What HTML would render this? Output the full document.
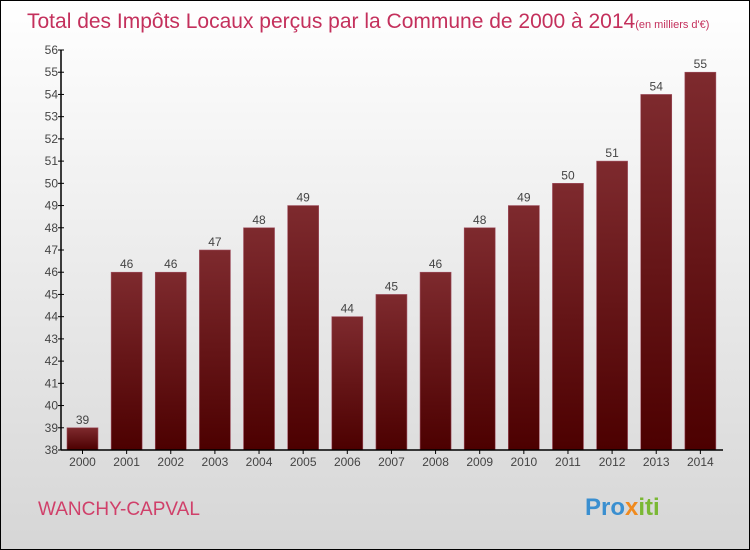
<!DOCTYPE html>
<html><head><meta charset="utf-8"><style>
body{margin:0}
#c{width:748px;height:548px;border:1px solid #000;position:relative;background:linear-gradient(#fff,#d6d6d6);font-family:"Liberation Sans",sans-serif;overflow:hidden}
</style></head><body>
<div id="c">
<svg width="748" height="548" id="s">
<defs><linearGradient id="g" x1="0" y1="0" x2="0" y2="1"><stop offset="0" stop-color="#7e2a2e"/><stop offset="1" stop-color="#4c0000"/></linearGradient></defs>
<text x="26" y="27" font-size="21" fill="#c4305c">Total des Impôts Locaux perçus par la Commune de 2000 à 2014<tspan font-size="11">(en milliers d'€)</tspan></text>
<text x="37" y="514" font-size="19" fill="#d0406a">WANCHY-CAPVAL</text>
<text x="584" y="514" font-size="24" font-weight="bold" fill="#3a8fd0">Pro<tspan fill="#f08a1e">x</tspan><tspan fill="#7ab834">iti</tspan></text>
<g id="bars"></g><g id="ax"></g>
</svg></div>
<script>
const years=["2000","2001","2002","2003","2004","2005","2006","2007","2008","2009","2010","2011","2012","2013","2014"];
const values=[39,46,46,47,48,49,44,45,46,48,49,50,51,54,55];
const yTicks=[38,39,40,41,42,43,44,45,46,47,48,49,50,51,52,53,54,55,56];
const ymin=38,ymax=56,plotTop=49,plotBot=449,plotLeft=60,plotRight=722;
const yS=v=>plotBot-(v-ymin)/(ymax-ymin)*(plotBot-plotTop);
const bw=(plotRight-plotLeft)/years.length;
const xS=i=>plotLeft+i*bw;
const NS="http://www.w3.org/2000/svg";
function mk(t,a,p,txt){const e=document.createElementNS(NS,t);for(const k in a)e.setAttribute(k,a[k]);if(txt!==undefined)e.textContent=txt;p.appendChild(e);return e;}
const B=document.getElementById('bars'),A=document.getElementById('ax');
values.forEach((v,i)=>{
 const r=mk('rect',{x:xS(i)+6,y:yS(v),width:31,height:plotBot-yS(v),fill:'url(#g)',stroke:'#a05060','stroke-width':0.6},B);
 
 
 const t=mk('text',{x:xS(i)+21.5,y:yS(v)-4,'font-size':12,'text-anchor':'middle',fill:'#444'},B,v);
 
 
 const xl=mk('text',{x:xS(i)+21.5,y:plotBot+16,'font-size':12,'text-anchor':'middle',fill:'#444'},A,years[i]);
 
 
 mk('line',{x1:xS(i)+21.5,x2:xS(i)+21.5,y1:plotBot,y2:plotBot+4,stroke:'#000'},A);
});
const ya=mk('line',{x1:plotLeft,x2:plotLeft,y1:plotTop,y2:plotBot,stroke:'#000','stroke-width':1.5},A);


const xa=mk('line',{x1:plotLeft,x2:plotRight,y1:plotBot,y2:plotBot,stroke:'#000','stroke-width':1.5},A);


yTicks.forEach(v=>{
 mk('line',{x1:plotLeft-3,x2:plotLeft+3,y1:yS(v),y2:yS(v),stroke:'#000'},A);
 const t=mk('text',{x:plotLeft-3,y:yS(v)+4,'font-size':12,'text-anchor':'end',fill:'#444'},A,v);
 
 
});
</script>
</body></html>
